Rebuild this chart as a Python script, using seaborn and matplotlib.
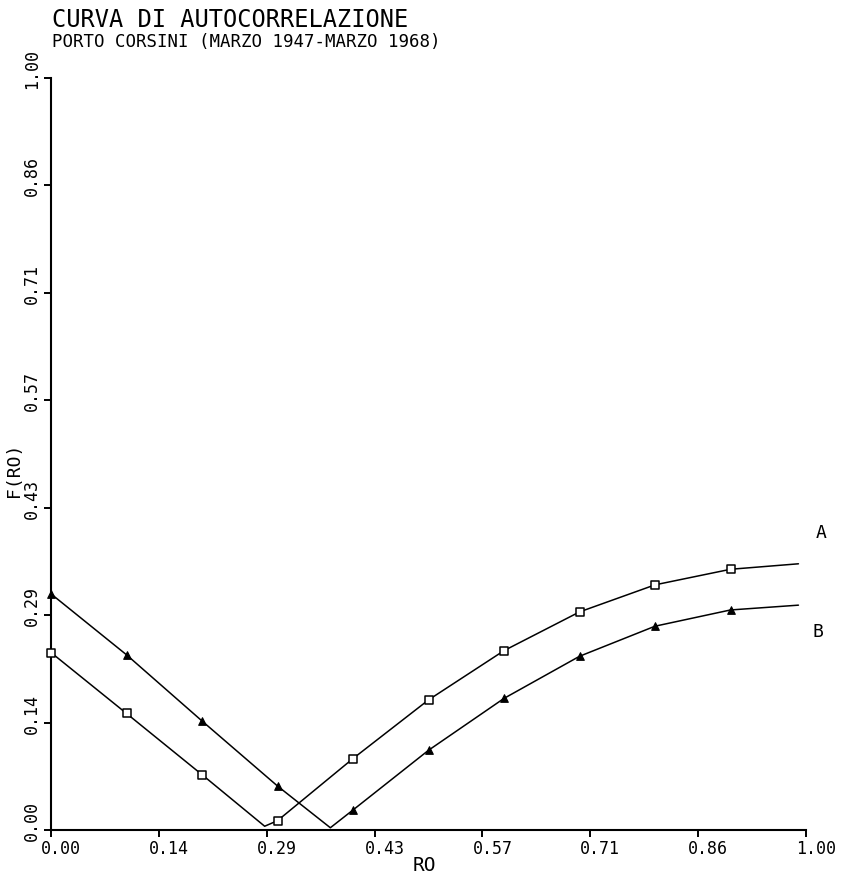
import matplotlib
matplotlib.use("Agg")
import matplotlib.pyplot as plt
import seaborn as sns
import pandas as pd
from matplotlib.transforms import ScaledTranslation

# ---- data ----
ro_a = [0.0, 0.1, 0.2, 0.283, 0.3, 0.4, 0.5, 0.6, 0.7, 0.8, 0.9, 0.99]
f_a = [0.236, 0.155, 0.0736, 0.005, 0.0124, 0.095, 0.173, 0.2385, 0.290, 0.326, 0.3467, 0.354]
mark_a = [True, True, True, False, True, True, True, True, True, True, True, False]

ro_b = [0.0, 0.1, 0.2, 0.3, 0.37, 0.4, 0.5, 0.6, 0.7, 0.8, 0.9, 0.99]
f_b = [0.314, 0.233, 0.145, 0.0585, 0.003, 0.0266, 0.106, 0.175, 0.231, 0.271, 0.2926, 0.299]
mark_b = [True, True, True, True, False, True, True, True, True, True, True, False]

tick_pos = [0.0, 1/7, 2/7, 3/7, 4/7, 5/7, 6/7, 1.0]
tick_labels = ["0.00", "0.14", "0.29", "0.43", "0.57", "0.71", "0.86", "1.00"]

title = "CURVA DI AUTOCORRELAZIONE"
subtitle = "PORTO CORSINI (MARZO 1947-MARZO 1968)"
xlabel = "RO"
ylabel = "F(RO)"

df_a = pd.DataFrame({"ro": ro_a, "f": f_a, "mark": mark_a})
df_b = pd.DataFrame({"ro": ro_b, "f": f_b, "mark": mark_b})

sns.set_theme(style="ticks")
plt.rcParams["font.family"] = ["DejaVu Sans Mono", "DejaVu Sans"]

W, H = 844, 877
fig = plt.figure(figsize=(W / 100, H / 100), dpi=100)
ax = fig.add_axes([51 / W, 1 - 830 / H, 755 / W, 752 / H])

lw = 1.1
sns.lineplot(data=df_a, x="ro", y="f", ax=ax, color="black", lw=lw, sort=False, legend=False)
sns.lineplot(data=df_b, x="ro", y="f", ax=ax, color="black", lw=lw, sort=False, legend=False)
sns.scatterplot(data=df_a[df_a["mark"]], x="ro", y="f", ax=ax, marker="s", s=38,
                facecolor="white", edgecolor="black", linewidth=1.1, zorder=3, clip_on=False)
sns.scatterplot(data=df_b[df_b["mark"]], x="ro", y="f", ax=ax, marker="^", s=30,
                color="black", edgecolor="black", linewidth=0.8, zorder=3, clip_on=False)

ax.set_xlim(0, 1)
ax.set_ylim(0, 1)
ax.set_xticks(tick_pos)
ax.set_xticklabels(tick_labels, fontsize=12)
ax.set_yticks(tick_pos)
ax.set_yticklabels(tick_labels, fontsize=12, rotation=90, va="center")
ax.tick_params(axis="both", direction="out", length=5, width=1.4, color="black",
               labelcolor="black", pad=2)

for lab in ax.get_xticklabels():
    lab.set_transform(lab.get_transform() + ScaledTranslation(10 / 100, 0, fig.dpi_scale_trans))
for lab in ax.get_yticklabels():
    lab.set_transform(lab.get_transform() + ScaledTranslation(0, 9 / 100, fig.dpi_scale_trans))

for side in ["top", "right"]:
    ax.spines[side].set_visible(False)
for side in ["left", "bottom"]:
    ax.spines[side].set_linewidth(1.5)
    ax.spines[side].set_color("black")

ax.set_xlabel(xlabel, fontsize=14, color="black")
ax.xaxis.set_label_coords(0.495, -0.035)
ax.set_ylabel(ylabel, fontsize=13, color="black")
ax.yaxis.set_label_coords(-0.037, 0.479)

ax.text(1.013, 0.395, "A", fontsize=13, color="black", ha="left", va="center", clip_on=False)
ax.text(1.009, 0.263, "B", fontsize=13, color="black", ha="left", va="center", clip_on=False)

fig.text(52 / W, 1 - 8 / H, title, fontsize=17, color="black", ha="left", va="top")
fig.text(52 / W, 1 - 33 / H, subtitle, fontsize=12.5, color="black", ha="left", va="top")

fig.savefig("out.png", dpi=100, facecolor="white")
